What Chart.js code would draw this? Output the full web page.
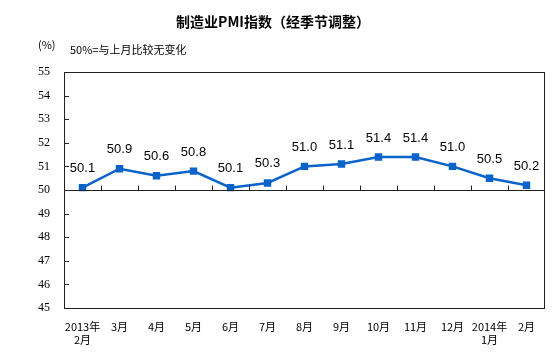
<!DOCTYPE html>
<html lang="zh">
<head>
<meta charset="UTF-8" />
<title>制造业PMI指数</title>
<script src="https://cdn.jsdelivr.net/npm/chart.js@4"></script>
<style>
  html, body { margin: 0; padding: 0; background: #fff; }
  #wrap { width: 553px; height: 364px; position: relative; }
</style>
</head>
<body>
<div id="wrap"><canvas id="pmiChart"></canvas></div>
<script>
const months = [["2013年", "2月"], "3月", "4月", "5月", "6月", "7月", "8月", "9月", "10月", "11月", "12月", ["2014年", "1月"], "2月"];
const pmiValues = [50.1, 50.9, 50.6, 50.8, 50.1, 50.3, 51.0, 51.1, 51.4, 51.4, 51.0, 50.5, 50.2];
const yMin = 45, yMax = 55, baseline = 50;

const titleText = "制造业PMI指数（经季节调整）";
const unitText = "(%)";
const noteText = "50%=与上月比较无变化";

const cjk = '"Noto Sans CJK SC", "Noto Sans", sans-serif';
const lineColor = "#0a63c9";

// box, baseline, inner ticks, labels and header texts
const decor = {
  id: "decor",
  afterDatasetsDraw(chart) {
    const { ctx, chartArea: a, scales: { x, y } } = chart;
    ctx.save();
    ctx.strokeStyle = "#222";
    ctx.lineWidth = 1;
    ctx.strokeRect(a.left + 0.5, a.top + 0.5, a.right - a.left - 1, a.bottom - a.top);

    // ticks on the left axis, pointing inward
    y.ticks.forEach((t) => {
      const py = Math.round(y.getPixelForValue(t.value)) + 0.5;
      ctx.beginPath();
      ctx.moveTo(a.left, py);
      ctx.lineTo(a.left + 5, py);
      ctx.stroke();
    });

    // 50 line with category ticks above it
    const y50 = Math.round(y.getPixelForValue(baseline)) + 0.5;
    ctx.beginPath();
    ctx.moveTo(a.left, y50);
    ctx.lineTo(a.right, y50);
    ctx.stroke();
    for (let i = 1; i < months.length; i++) {
      const px = Math.round((x.getPixelForValue(i - 1) + x.getPixelForValue(i)) / 2) + 0.5;
      ctx.beginPath();
      ctx.moveTo(px, y50);
      ctx.lineTo(px, y50 - 5);
      ctx.stroke();
    }

    // value labels
    const meta = chart.getDatasetMeta(0);
    ctx.fillStyle = "#000";
    ctx.font = '13px "Liberation Sans", Arial, sans-serif';
    ctx.textAlign = "center";
    ctx.textBaseline = "middle";
    meta.data.forEach((pt, i) => {
      ctx.fillText(pmiValues[i].toFixed(1), pt.x, pt.y - 19);
    });

    // header
    ctx.font = "bold 14px " + cjk;
    ctx.fillText(titleText, 273, 22);
    ctx.font = "11px " + cjk;
    ctx.textAlign = "left";
    ctx.fillText(unitText, 38, 45);
    ctx.fillText(noteText, 70, 50);
    ctx.restore();
  }
};

new Chart(document.getElementById("pmiChart"), {
  type: "line",
  data: {
    labels: months,
    datasets: [{
      data: pmiValues,
      borderColor: lineColor,
      backgroundColor: lineColor,
      borderWidth: 2.5,
      pointStyle: "rect",
      pointRadius: 3.5,
      tension: 0
    }]
  },
  options: {
    responsive: true,
    maintainAspectRatio: false,
    animation: false,
    layout: { padding: { top: 72, right: 8, left: 0, bottom: 0 } },
    plugins: { legend: { display: false }, tooltip: { enabled: false }, title: { display: false } },
    scales: {
      x: {
        offset: true,
        grid: { display: false },
        border: { display: false },
        ticks: {
          color: "#000",
          font: { family: cjk, size: 11 },
          padding: 4,
          maxRotation: 0,
          autoSkip: false
        },
        afterFit(s) { s.height = 56; }
      },
      y: {
        min: yMin,
        max: yMax,
        grid: { display: false, drawTicks: false },
        border: { display: false },
        ticks: {
          stepSize: 1,
          color: "#000",
          font: { family: '"Liberation Serif", "Times New Roman", serif', size: 12 },
          padding: 14
        },
        afterFit(s) { s.width = 64; }
      }
    }
  },
  plugins: [decor]
});
</script>
</body>
</html>
